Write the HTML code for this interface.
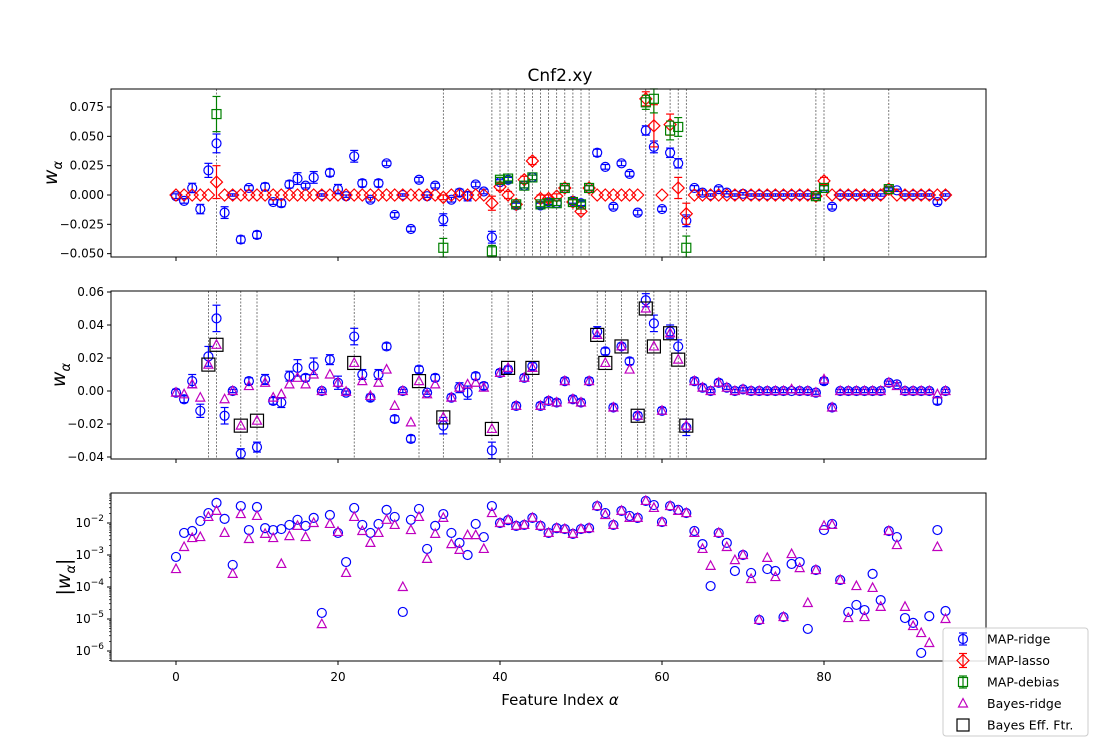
<!DOCTYPE html>
<html><head><meta charset="utf-8"><style>
body{margin:0;background:#fff;}
svg{display:block;font-family:"DejaVu Sans","Liberation Sans",sans-serif;}
</style></head><body>
<svg id="chart" width="1095" height="743" xmlns="http://www.w3.org/2000/svg">
<text x="560" y="81" font-size="17" text-anchor="middle">Cnf2.xy</text>
<text x="560" y="705" font-size="15" text-anchor="middle">Feature Index <tspan font-style="italic">α</tspan></text>
<text transform="translate(57,173) rotate(-90)" font-size="19" text-anchor="middle"><tspan font-style="italic">w</tspan><tspan font-size="13" font-style="italic" dy="5">α</tspan></text>
<text transform="translate(65,375) rotate(-90)" font-size="19" text-anchor="middle"><tspan font-style="italic">w</tspan><tspan font-size="13" font-style="italic" dy="5">α</tspan></text>
<text transform="translate(70,577) rotate(-90)" font-size="19" text-anchor="middle">|<tspan font-style="italic">w</tspan><tspan font-size="13" font-style="italic" dy="5">α</tspan><tspan dy="-5">|</tspan></text>
</svg>
<script>
const ridge=[-0.001,-0.005,0.006,-0.012,0.021,0.044,-0.015,0.000,-0.038,0.006,-0.034,0.007,-0.006,-0.007,0.009,0.014,0.008,0.015,0.000,0.019,0.005,-0.001,0.033,0.010,-0.004,0.010,0.027,-0.017,0.000,-0.029,0.013,-0.001,0.008,-0.021,-0.004,0.002,-0.001,0.009,0.003,-0.036,0.011,0.013,-0.009,0.008,0.015,-0.009,-0.006,-0.007,0.006,-0.005,-0.007,0.006,0.036,0.024,-0.010,0.027,0.018,-0.015,0.055,0.041,-0.012,0.036,0.027,-0.022,0.006,0.002,0.000,0.005,0.002,0.000,0.001,0.000,0.000,0.000,0.000,0.000,0.000,0.000,0.000,-0.001,0.006,-0.010,0.000,0.000,0.000,0.000,0.000,0.000,0.005,0.004,0.000,0.000,0.000,0.000,-0.006,0.000];
const ridgeErr=[0.002,0.002,0.004,0.004,0.006,0.008,0.005,0.001,0.003,0.002,0.003,0.003,0.002,0.003,0.003,0.005,0.002,0.005,0.001,0.003,0.004,0.001,0.005,0.003,0.002,0.003,0.002,0.002,0.001,0.002,0.002,0.001,0.002,0.005,0.002,0.003,0.004,0.002,0.002,0.005,0.002,0.002,0.002,0.002,0.002,0.002,0.002,0.002,0.002,0.002,0.002,0.002,0.003,0.002,0.002,0.002,0.002,0.002,0.004,0.005,0.002,0.004,0.004,0.005,0.002,0.002,0.001,0.002,0.001,0.001,0.001,0.001,0.001,0.001,0.001,0.001,0.001,0.001,0.001,0.001,0.002,0.002,0.001,0.001,0.001,0.001,0.001,0.001,0.001,0.001,0.001,0.001,0.001,0.001,0.002,0.001];
const bayes=[-0.001,-0.002,0.004,-0.004,0.016,0.028,-0.005,0.000,-0.021,0.003,-0.018,0.005,-0.004,-0.002,0.004,0.008,0.004,0.010,0.000,0.010,0.005,-0.0005,0.017,0.006,-0.003,0.005,0.013,-0.009,0.000,-0.019,0.006,-0.002,0.004,-0.016,-0.004,0.002,0.004,0.005,0.002,-0.023,0.011,0.014,-0.009,0.008,0.014,-0.009,-0.006,-0.007,0.006,-0.005,-0.007,0.006,0.034,0.017,-0.010,0.027,0.013,-0.015,0.050,0.027,-0.012,0.035,0.019,-0.021,0.006,0.002,0.000,0.005,0.002,0.000,0.001,0.000,0.000,0.000,0.000,0.000,0.001,0.000,0.000,-0.001,0.007,-0.010,0.000,0.000,0.000,0.000,0.000,0.000,0.005,0.003,0.000,0.000,0.000,0.000,-0.002,0.000];
const ridgeAbsExp=[-3.06,-2.31,-2.25,-1.94,-1.69,-1.37,-1.87,-3.31,-1.47,-2.22,-1.5,-2.16,-2.22,-2.19,-2.06,-1.9,-2.09,-1.84,-4.81,-1.75,-2.31,-3.22,-1.53,-2.06,-2.31,-2.03,-1.59,-1.81,-4.78,-1.9,-1.56,-2.81,-2.09,-1.72,-2.31,-2.62,-3.0,-2.03,-2.44,-1.47,-2.0,-1.91,-2.09,-2.06,-1.84,-2.09,-2.31,-2.16,-2.19,-2.34,-2.19,-2.16,-1.47,-1.69,-2.06,-1.62,-1.78,-1.84,-1.31,-1.44,-1.97,-1.47,-1.59,-1.69,-2.25,-2.66,-3.97,-2.31,-2.62,-3.5,-3.0,-3.56,-5.03,-3.44,-3.5,-4.94,-3.28,-3.22,-5.31,-3.47,-2.22,-2.03,-3.78,-4.78,-4.56,-4.72,-3.59,-4.41,-2.25,-2.44,-4.97,-5.12,-6.06,-4.91,-2.22,-4.75];
const bayesAbsExp=[-3.44,-2.75,-2.47,-2.44,-1.81,-1.62,-2.31,-3.59,-1.72,-2.5,-1.78,-2.34,-2.47,-3.28,-2.41,-2.09,-2.44,-2.0,-5.16,-2.03,-2.28,-3.56,-1.81,-2.25,-2.62,-2.31,-1.9,-2.06,-4.0,-2.22,-1.81,-3.12,-2.34,-1.84,-2.66,-2.84,-2.38,-2.38,-2.81,-1.69,-2.0,-1.9,-2.09,-2.06,-1.84,-2.09,-2.31,-2.16,-2.19,-2.34,-2.19,-2.16,-1.47,-1.75,-2.06,-1.62,-1.84,-1.84,-1.31,-1.53,-1.97,-1.47,-1.62,-1.69,-2.31,-2.81,-3.34,-2.31,-2.75,-3.16,-3.0,-3.75,-5.03,-3.09,-3.69,-4.94,-2.97,-3.41,-4.5,-3.47,-2.09,-2.06,-3.78,-4.97,-3.97,-4.94,-4.03,-4.62,-2.25,-2.69,-4.62,-5.22,-5.44,-5.75,-2.75,-5.0];
const lassoIdx=[5,33,39,40,41,42,43,44,45,46,47,48,49,50,51,58,59,61,62,63,79,80,88];
const lassoVal=[0.011,-0.002,-0.007,0.007,0.000,-0.008,0.013,0.029,-0.003,-0.003,-0.001,0.006,-0.006,-0.014,0.006,0.082,0.059,0.060,0.006,-0.016,-0.001,0.012,0.005];
const lassoErr=[0.014,0.002,0.006,0.003,0.003,0.002,0.003,0.003,0.003,0.003,0.002,0.002,0.002,0.002,0.002,0.006,0.018,0.009,0.009,0.009,0.002,0.003,0.002];
const debiasVal=[0.069,-0.045,-0.048,0.013,0.014,-0.008,0.008,0.015,-0.008,-0.007,-0.007,0.006,-0.006,-0.008,0.006,0.079,0.082,0.055,0.058,-0.045,-0.001,0.006,0.005];
const debiasErr=[0.015,0.008,0.005,0.002,0.002,0.002,0.002,0.002,0.002,0.002,0.002,0.002,0.002,0.002,0.002,0.006,0.012,0.008,0.008,0.010,0.002,0.002,0.002];
const effIdx=[4,5,8,10,22,30,33,39,41,44,52,53,55,57,58,59,61,62,63];
const xTicks=[0,20,40,60,80];
const y1Ticks=[0.075,0.05,0.025,0,-0.025,-0.05];
const y1Labels=["0.075","0.050","0.025","0.000","−0.025","−0.050"];
const y2Ticks=[0.06,0.04,0.02,0,-0.02,-0.04];
const y2Labels=["0.06","0.04","0.02","0.00","−0.02","−0.04"];
const y3Ticks=[-2,-3,-4,-5,-6];

const NS="http://www.w3.org/2000/svg";
const svg=document.getElementById('chart');
const L=111,R=986;
const X=i=>176+8.1*i;
const P=[{top:89,bot:257,y:v=>195-v*1173},{top:291,bot:459,y:v=>391-v*1650},{top:493,bot:661,y:e=>523-(e+2)*32}];
function mk(tag,at,parent){const e=document.createElementNS(NS,tag);for(const k in at)e.setAttribute(k,at[k]);(parent||svg).appendChild(e);return e;}
function grp(name){const g=mk('g',{});return g;}
function circle(g,x,y){mk('circle',{cx:x,cy:y,r:4.5,fill:'none',stroke:'#0000ff','stroke-width':1.2},g);}
function diamond(g,x,y){mk('path',{d:`M${x} ${y-6}L${x+6} ${y}L${x} ${y+6}L${x-6} ${y}Z`,fill:'none',stroke:'#ff0000','stroke-width':1.2},g);}
function square(g,x,y,c,s){mk('rect',{x:x-s,y:y-s,width:2*s,height:2*s,fill:c==='#000'?'none':'none',stroke:c,'stroke-width':1.2},g);}
function tri(g,x,y){mk('path',{d:`M${x} ${y-5}L${x+4.5} ${y+3.5}L${x-4.5} ${y+3.5}Z`,fill:'none',stroke:'#bf00bf','stroke-width':1.2},g);}
function ebar(g,x,y1,y2,c){mk('line',{x1:x,y1:y1,x2:x,y2:y2,stroke:c,'stroke-width':1.2},g);mk('line',{x1:x-4,y1:y1,x2:x+4,y2:y1,stroke:c,'stroke-width':1.2},g);mk('line',{x1:x-4,y1:y2,x2:x+4,y2:y2,stroke:c,'stroke-width':1.2},g);}
function vline(g,i,p){mk('line',{x1:X(i),y1:p.top,x2:X(i),y2:p.bot,stroke:'#444','stroke-width':0.7,'stroke-dasharray':'2,1.5'},g);}

// frames and axes
P.forEach((p,k)=>{
  const ax=grp('axis-panel-'+(k+1));
  xTicks.forEach(t=>{mk('line',{x1:X(t),y1:p.bot,x2:X(t),y2:p.bot+4,stroke:'#000'},ax);
    if(k===2){const tx=mk('text',{x:X(t),y:p.bot+20,'font-size':12,'text-anchor':'middle'},ax);tx.textContent=t;}});
});
const a1=grp('y-axis-top');
y1Ticks.forEach((t,j)=>{const y=P[0].y(t);mk('line',{x1:L-4,y1:y,x2:L,y2:y,stroke:'#000'},a1);const tx=mk('text',{x:L-7,y:y+4,'font-size':12,'text-anchor':'end'},a1);tx.textContent=y1Labels[j];});
const a2=grp('y-axis-middle');
y2Ticks.forEach((t,j)=>{const y=P[1].y(t);mk('line',{x1:L-4,y1:y,x2:L,y2:y,stroke:'#000'},a2);const tx=mk('text',{x:L-7,y:y+4,'font-size':12,'text-anchor':'end'},a2);tx.textContent=y2Labels[j];});
const a3=grp('y-axis-bottom');
y3Ticks.forEach(t=>{const y=P[2].y(t);mk('line',{x1:L-4,y1:y,x2:L,y2:y,stroke:'#000'},a3);
  const tx=mk('text',{x:L-7,y:y+4,'font-size':12,'text-anchor':'end'},a3);tx.innerHTML='10<tspan dy="-6" font-size="9">'+(t<0?'−':'')+Math.abs(t)+'</tspan>';
  for(let m=2;m<10;m++){const ym=P[2].y(t-1+Math.log10(m));if(ym>P[2].top&&ym<P[2].bot)mk('line',{x1:L-2,y1:ym,x2:L,y2:ym,stroke:'#000','stroke-width':0.7},a3);}
});
{const ym=P[2].y(-2+Math.log10(2));for(let m=2;m<10;m++){const y=P[2].y(-2+Math.log10(m));if(y>P[2].top)mk('line',{x1:L-2,y1:y,x2:L,y2:y,stroke:'#000','stroke-width':0.7},a3);}}

// Panel 1
const g1=grp('panel-top-map');
lassoIdx.forEach(i=>vline(g1,i,P[0]));
ridge.forEach((v,i)=>{ebar(g1,X(i),P[0].y(v+ridgeErr[i]),P[0].y(v-ridgeErr[i]),'#0000ff');circle(g1,X(i),P[0].y(v));});
ridge.forEach((v,i)=>{const j=lassoIdx.indexOf(i);const lv=j>=0?lassoVal[j]:0;if(j>=0)ebar(g1,X(i),P[0].y(lv+lassoErr[j]),P[0].y(lv-lassoErr[j]),'#ff0000');diamond(g1,X(i),P[0].y(lv));});
lassoIdx.forEach((i,j)=>{const v=debiasVal[j];ebar(g1,X(i),P[0].y(Math.min(v+debiasErr[j],0.0904)),P[0].y(Math.max(v-debiasErr[j],-0.0529)),'#008000');square(g1,X(i),P[0].y(v),'#008000',4.5);});
// Panel 2
const g2=grp('panel-middle-bayes');
effIdx.forEach(i=>vline(g2,i,P[1]));
ridge.forEach((v,i)=>{ebar(g2,X(i),P[1].y(v+ridgeErr[i]),P[1].y(Math.max(v-ridgeErr[i],-0.0412)),'#0000ff');circle(g2,X(i),P[1].y(v));});
bayes.forEach((v,i)=>tri(g2,X(i),P[1].y(v)));
effIdx.forEach(i=>square(g2,X(i),P[1].y(bayes[i]),'#000',6.5));
// Panel 3
const g3=grp('panel-bottom-magnitude');
ridgeAbsExp.forEach((e,i)=>circle(g3,X(i),P[2].y(e)));
bayesAbsExp.forEach((e,i)=>tri(g3,X(i),P[2].y(e)));
// frames on top
P.forEach((p,k)=>{const f=mk('rect',{x:L,y:p.top,width:R-L,height:p.bot-p.top,fill:'none',stroke:'#000','stroke-width':1});});
// legend
const lg=grp('legend');
mk('rect',{x:943,y:628,width:145,height:108,rx:3,fill:'#fff','fill-opacity':0.85,stroke:'#ccc'},lg);
const names=['MAP-ridge','MAP-lasso','MAP-debias','Bayes-ridge','Bayes Eff. Ftr.'];
names.forEach((n,k)=>{const y=639+k*21.5,x=963;const e=grp('legend-entry-'+n.toLowerCase().replace(/[^a-z]+/g,'-'));lg.appendChild(e);
  if(k===0){ebar(e,x,y-6,y+6,'#0000ff');circle(e,x,y);}
  if(k===1){ebar(e,x,y-7,y+7,'#ff0000');diamond(e,x,y);}
  if(k===2){ebar(e,x,y-6,y+6,'#008000');square(e,x,y,'#008000',4.5);}
  if(k===3)tri(e,x,y);
  if(k===4)square(e,x,y,'#000',6);
  const t=mk('text',{x:987,y:y+4.5,'font-size':12.5},e);t.textContent=n;});
</script>
</body></html>
